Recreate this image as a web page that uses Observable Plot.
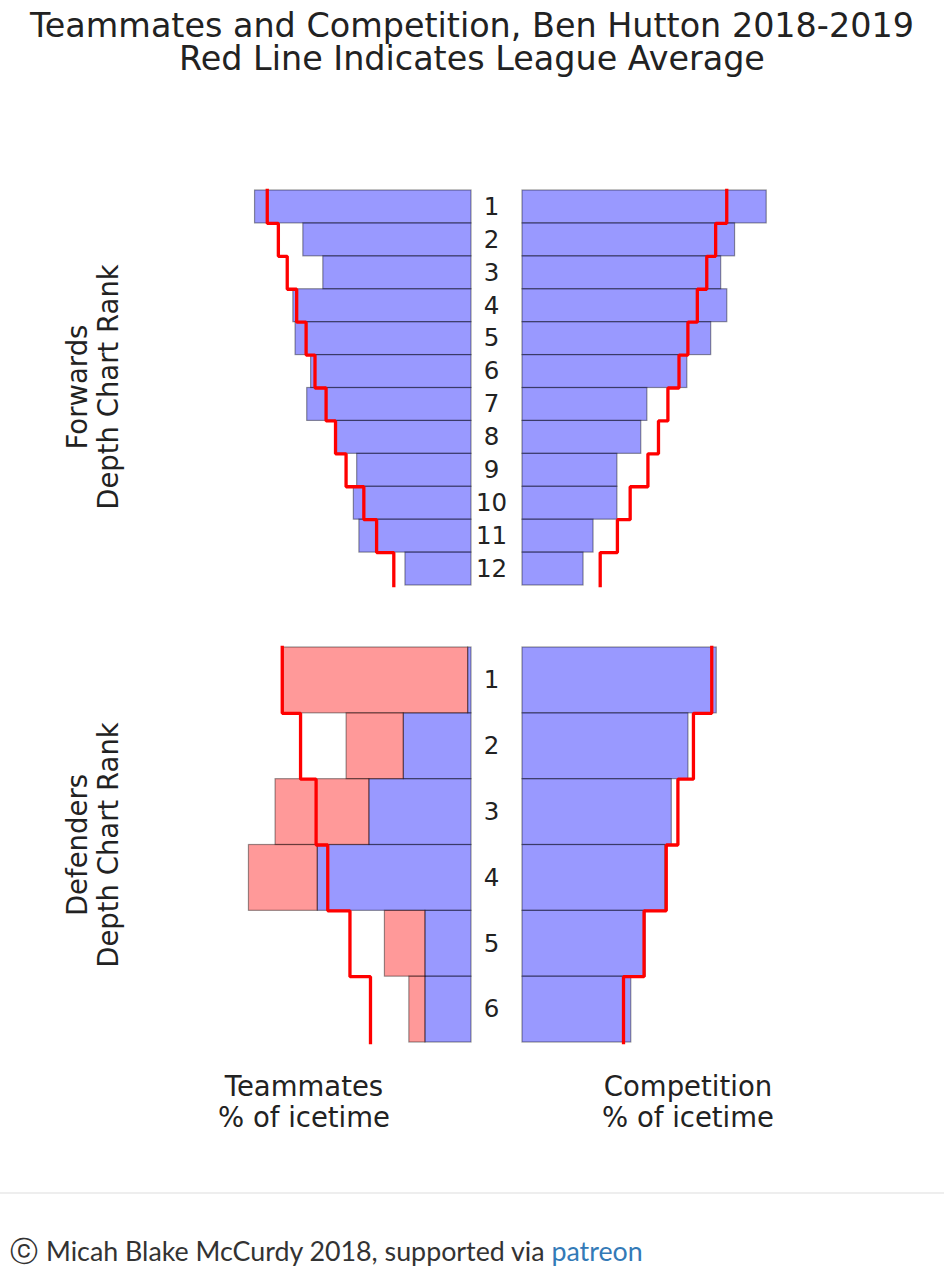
<!DOCTYPE html>
<html>
<head>
<meta charset="utf-8">
<script src="https://cdn.jsdelivr.net/npm/d3@7"></script>
<script src="https://cdn.jsdelivr.net/npm/@observablehq/plot@0.6"></script>
<style>
  html, body { margin: 0; padding: 0; background: #fff; }
  #page { position: relative; width: 944px; height: 1273px; font-family: "DejaVu Sans", sans-serif; color: #222; overflow: hidden; }
  .abs { position: absolute; }
  .title { left: 0; width: 944px; text-align: center; font-size: 33.4px; line-height: 33px; white-space: nowrap; }
  .axlabel { font-size: 27.5px; line-height: 31px; text-align: center; white-space: nowrap; }
  .ylab { width: 300px; height: 62px; transform: rotate(-90deg); transform-origin: 50% 50%; }
  .xlab { width: 300px; }
  #rule { left: 0; top: 1192px; width: 944px; height: 2px; background: #eeeeee; }
  #footer { left: 10px; top: 1236px; font-family: Lato, "Open Sans", sans-serif; font-size: 26.8px; line-height: 31px; color: #333; white-space: nowrap; }
  #footer .c { font-family: "DejaVu Sans"; font-size: 28px; margin-right: 8px; }
  #footer a { color: #337ab7; text-decoration: none; }
</style>
</head>
<body>
<div id="page">
  <div class="abs title" style="top:9px;">Teammates and Competition, Ben Hutton 2018-2019</div>
  <div class="abs title" style="top:42px;">Red Line Indicates League Average</div>
  <div class="abs axlabel ylab" style="left:-57px; top:356px;">Forwards<br>Depth Chart Rank</div>
  <div class="abs axlabel ylab" style="left:-57px; top:814px;">Defenders<br>Depth Chart Rank</div>
  <div class="abs axlabel xlab" style="left:154px; top:1071px;">Teammates<br>% of icetime</div>
  <div class="abs axlabel xlab" style="left:538px; top:1071px;">Competition<br>% of icetime</div>
  <div id="rule" class="abs"></div>
  <div id="footer" class="abs"><span class="c">ⓒ</span>Micah Blake McCurdy 2018, supported via <a href="#">patreon</a></div>
</div>
<script>
// ---- Data (percent of icetime) ----
const fwdRanks = [1, 2, 3, 4, 5, 6, 7, 8, 9, 10, 11, 12];
const fwdTeammates = [39.0, 30.3, 26.7, 32.1, 31.7, 28.9, 29.6, 24.5, 20.6, 21.2, 20.2, 11.9];
const fwdCompetition = [44.0, 38.3, 35.8, 36.9, 34.0, 29.7, 22.5, 21.4, 17.1, 17.1, 12.8, 11.0];
const fwdLeagueAvg = [36.8, 34.8, 33.2, 31.5, 29.8, 28.2, 26.2, 24.5, 22.6, 19.4, 17.1, 14.0];

const defRanks = [1, 2, 3, 4, 5, 6];
const defTeammatesBlue = [0.6, 12.2, 18.4, 27.7, 8.3, 8.3];
const defTeammatesPink = [33.2, 10.3, 16.9, 12.4, 7.3, 2.9];
const defCompetition = [35.0, 29.9, 26.9, 25.7, 22.2, 19.6];
const defLeagueAvg = [34.1, 30.8, 28.0, 25.9, 21.9, 18.2];

const xMax = 60;

function panel({ranks, segments, avg, reverse, labels}) {
  const n = ranks.length;
  const marks = [];
  for (const seg of segments) {
    const rows = ranks.map((r, i) => ({rank: r, x1: seg.start ? seg.start[i] : 0, x2: (seg.start ? seg.start[i] : 0) + seg.values[i]}));
    marks.push(Plot.rectX(rows, {
      x1: "x1", x2: "x2",
      y1: d => d.rank - 1, y2: d => d.rank,
      fill: seg.fill, fillOpacity: 0.4,
      stroke: "black", strokeOpacity: 0.4, strokeWidth: 1.2
    }));
  }
  const steps = ranks.flatMap((r, i) => [{y: r - 1, v: avg[i]}, {y: r, v: avg[i]}]);
  marks.push(Plot.line(steps, {x: "v", y: "y", stroke: "red", strokeWidth: 3.3, strokeLinecap: "square", strokeLinejoin: "miter"}));
  if (labels) {
    marks.push(Plot.text(ranks, {
      x: 0, y: r => r - 0.5, text: r => String(r),
      dx: -31, textAnchor: "middle", fontSize: 24.5, fill: "#222"
    }));
  }
  const mL = reverse ? 5 : 48, mR = reverse ? 3 : 5;
  return Plot.plot({
    width: 333 + mL + mR,
    height: 405,
    marginLeft: mL, marginRight: mR, marginTop: 5, marginBottom: 5,
    x: {domain: [0, xMax], reverse, axis: null},
    y: {domain: [0, n], reverse: true, axis: null},
    style: {background: "transparent", overflow: "visible", fontFamily: "DejaVu Sans"},
    marks
  });
}

function place(el, left, top) {
  el.style.position = "absolute";
  el.style.left = left + "px";
  el.style.top = top + "px";
  document.getElementById("page").appendChild(el);
}

place(panel({ranks: fwdRanks, segments: [{values: fwdTeammates, fill: "blue"}], avg: fwdLeagueAvg, reverse: true}), 133, 185);
place(panel({ranks: fwdRanks, segments: [{values: fwdCompetition, fill: "blue"}], avg: fwdLeagueAvg, reverse: false, labels: true}), 474, 185);
place(panel({ranks: defRanks, segments: [
  {values: defTeammatesBlue, fill: "blue"},
  {values: defTeammatesPink, start: defTeammatesBlue, fill: "red"}
], avg: defLeagueAvg, reverse: true}), 133, 642);
place(panel({ranks: defRanks, segments: [{values: defCompetition, fill: "blue"}], avg: defLeagueAvg, reverse: false, labels: true}), 474, 642);
</script>
</body>
</html>
